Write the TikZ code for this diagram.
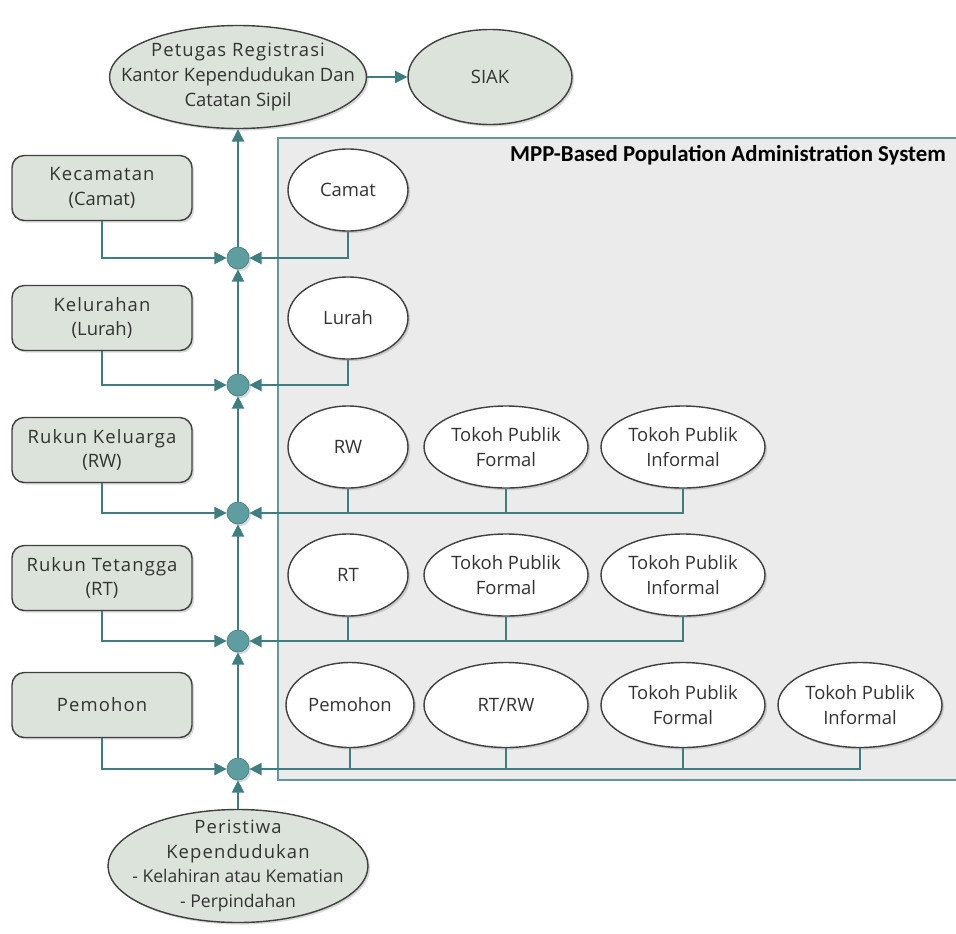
\documentclass[tikz,border=0pt]{standalone}
\usepackage{fontspec}
\setmainfont{Open Sans}
\newfontfamily\titlefont{Carlito}
\usetikzlibrary{arrows.meta,shadows,shapes.geometric}
\newlength{\px}
\setlength{\px}{0.02cm}
\definecolor{linecolor}{RGB}{62,125,128}
\definecolor{dotcolor}{RGB}{94,158,160}
\definecolor{greennode}{RGB}{220,227,218}
\definecolor{areacolor}{RGB}{235,235,235}
\definecolor{bordercolor}{RGB}{64,64,64}
\definecolor{textcolor}{RGB}{51,51,51}
\tikzstyle{every node} = [text=textcolor, font=\fontsize{10.5}{14}\selectfont, align=center]
\tikzstyle{softshadow} = [drop shadow={shadow xshift=1.2pt, shadow yshift=-1.2pt, opacity=0.3}]
\tikzstyle{greenellipse} = [ellipse, draw=bordercolor, fill=greennode, thick, softshadow, inner xsep=-15pt, inner ysep=0]
\tikzstyle{whiteellipse} = [ellipse, draw=bordercolor, fill=white, thick, softshadow, inner sep=0, minimum height=82*\px]
\tikzstyle{levelbox} = [rectangle, rounded corners=7pt, draw=bordercolor, fill=greennode, thick, softshadow, minimum width=180*\px, minimum height=65*\px]
\tikzstyle{junction} = [circle, fill=dotcolor, draw=dotcolor!80!black, thin, minimum size=22*\px, inner sep=0, softshadow]
\tikzstyle{link} = [draw, linecolor, thick, -{Triangle[length=7pt,width=7pt]}]
\tikzstyle{stem} = [draw, linecolor, thick]

\begin{document}
\begin{tikzpicture}[x=\px, y=-0.02cm]
	\useasboundingbox (0,0) rectangle (956,933);
	
	% system area
	\filldraw[fill=areacolor, draw=linecolor!80, thick] (278,138) rectangle (970,780);
	\node[anchor=east, font=\titlefont\bfseries\fontsize{13}{15}\selectfont, text=black] (title) at (952,155) {MPP-Based Population Administration System};
	
	% top and bottom
	\node[greenellipse, minimum width=257*\px, minimum height=103*\px] (registrasi) at (238,77) {{\addfontfeature{LetterSpace=6}Petugas Registrasi}\\Kantor Kependudukan Dan\\Catatan Sipil};
	\node[greenellipse, inner xsep=0pt, minimum width=164*\px, minimum height=95*\px] (siak) at (490,77) {SIAK};
	\node[greenellipse, inner ysep=-5pt, minimum width=260*\px, minimum height=113*\px] (peristiwa) at (238,866) {{\addfontfeature{LetterSpace=6}Peristiwa}\\{\addfontfeature{LetterSpace=6}Kependudukan}\\{\fontsize{10}{13}\selectfont - Kelahiran atau Kematian}\\{\fontsize{10}{13}\selectfont - Perpindahan}};
	
	% levels
	\node[levelbox] (kecamatan) at (102,188) {{\addfontfeature{LetterSpace=6}Kecamatan}\\(Camat)};
	\node[levelbox] (kelurahan) at (102,318) {{\addfontfeature{LetterSpace=6}Kelurahan}\\(Lurah)};
	\node[levelbox] (rukunkeluarga) at (102,450) {{\addfontfeature{LetterSpace=6}Rukun Keluarga}\\(RW)};
	\node[levelbox] (rukuntetangga) at (102,578) {{\addfontfeature{LetterSpace=6}Rukun Tetangga}\\(RT)};
	\node[levelbox] (pemohon) at (102,705) {{\addfontfeature{LetterSpace=6}Pemohon}};
	
	% junctions
	\node[junction] (j1) at (238,258) {};
	\node[junction] (j2) at (238,385) {};
	\node[junction] (j3) at (238,513) {};
	\node[junction] (j4) at (238,641) {};
	\node[junction] (j5) at (238,769) {};
	
	% actors
	\node[whiteellipse, minimum width=120*\px] (camat) at (348,190) {Camat};
	\node[whiteellipse, minimum width=120*\px] (lurah) at (348,318) {Lurah};
	\node[whiteellipse, minimum width=120*\px] (rw) at (348,447) {RW};
	\node[whiteellipse, minimum width=164*\px] (rwformal) at (506,447) {Tokoh Publik\\Formal};
	\node[whiteellipse, minimum width=164*\px] (rwinformal) at (683,447) {Tokoh Publik\\Informal};
	\node[whiteellipse, minimum width=120*\px] (rt) at (348,575) {RT};
	\node[whiteellipse, minimum width=164*\px] (rtformal) at (506,575) {Tokoh Publik\\Formal};
	\node[whiteellipse, minimum width=164*\px] (rtinformal) at (683,575) {Tokoh Publik\\Informal};
	\node[whiteellipse, minimum width=128*\px, minimum height=85*\px] (pemohonactor) at (350,705) {Pemohon};
	\node[whiteellipse, minimum width=164*\px, minimum height=85*\px] (rtrw) at (506,705) {RT/RW};
	\node[whiteellipse, minimum width=164*\px, minimum height=85*\px] (pmformal) at (683,705) {Tokoh Publik\\Formal};
	\node[whiteellipse, minimum width=164*\px, minimum height=85*\px] (pminformal) at (860,705) {Tokoh Publik\\Informal};
	
	% spine
	\draw[link] (peristiwa) -- (j5);
	\draw[link] (j5) -- (j4);
	\draw[link] (j4) -- (j3);
	\draw[link] (j3) -- (j2);
	\draw[link] (j2) -- (j1);
	\draw[link] (j1) -- (registrasi);
	\draw[link] (registrasi.east) -- (siak.west);
	
	% left inputs
	\draw[link] (kecamatan.south) |- (j1);
	\draw[link] (kelurahan.south) |- (j2);
	\draw[link] (rukunkeluarga.south) |- (j3);
	\draw[link] (rukuntetangga.south) |- (j4);
	\draw[link] (pemohon.south) |- (j5);
	
	% right inputs
	\draw[link] (camat.south) |- (j1);
	\draw[link] (lurah.south) |- (j2);
	\draw[link] (rwinformal.south) |- (j3);
	\draw[stem] (rw.south) -- (rw.south |- j3);
	\draw[stem] (rwformal.south) -- (rwformal.south |- j3);
	\draw[link] (rtinformal.south) |- (j4);
	\draw[stem] (rt.south) -- (rt.south |- j4);
	\draw[stem] (rtformal.south) -- (rtformal.south |- j4);
	\draw[link] (pminformal.south) |- (j5);
	\draw[stem] (pemohonactor.south) -- (pemohonactor.south |- j5);
	\draw[stem] (rtrw.south) -- (rtrw.south |- j5);
	\draw[stem] (pmformal.south) -- (pmformal.south |- j5);
	
\end{tikzpicture}
\end{document}
